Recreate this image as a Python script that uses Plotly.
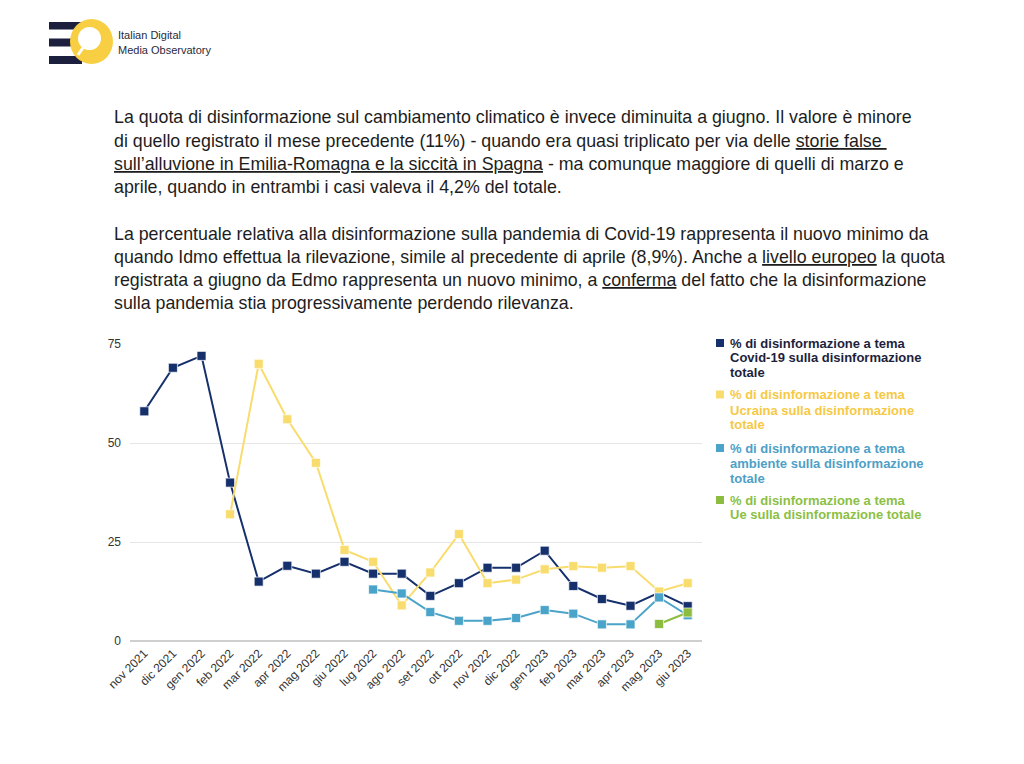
import plotly.graph_objects as go

months = ["nov 2021", "dic 2021", "gen 2022", "feb 2022", "mar 2022", "apr 2022", "mag 2022",
          "giu 2022", "lug 2022", "ago 2022", "set 2022", "ott 2022", "nov 2022", "dic 2022",
          "gen 2023", "feb 2023", "mar 2023", "apr 2023", "mag 2023", "giu 2023"]
covid = [58, 69, 72, 40, 15, 19, 17, 20, 17, 17, 11.4, 14.6, 18.5, 18.5, 22.8, 13.9, 10.6, 8.9, 12.2, 8.8]
ucraina = [None, None, None, 32, 70, 56, 45, 23, 20, 9, 17.3, 27, 14.6, 15.5, 18.1, 18.9, 18.5, 18.9, 12.5, 14.6]
ambiente = [None, None, None, None, None, None, None, None, 13, 12, 7.3, 5.1, 5.1, 5.8, 7.8, 6.9, 4.2, 4.2, 11, 6.5]
ue = [None] * 18 + [4.3, 7.2]
y_ticks = [0, 25, 50, 75]

C_COVID = "#15306b"
C_UCR = "#f9dc6e"
C_AMB = "#4aa3c8"
C_UE = "#8cbd40"

# page offset of the plot div (body margin)
OX, OY = 8, 8
# plot area in screen pixels
L, R, T, B = 130, 702, 344, 641
W, H = 1024, 764


def X(px):
    return (px - L) / (R - L)


def Y(py):
    return (B - py) / (B - T)


fig = go.Figure()
for vals, col in [(covid, C_COVID), (ucraina, C_UCR), (ambiente, C_AMB), (ue, C_UE)]:
    fig.add_trace(go.Scatter(
        x=months, y=vals, mode="lines+markers",
        line=dict(color=col, width=2),
        marker=dict(symbol="square", size=9, color=col, line=dict(color="rgba(255,255,255,0.7)", width=1)),
        connectgaps=False, showlegend=False, hoverinfo="x+y"))

annotations = []
shapes = []

FONT = "Liberation Sans, Arial, sans-serif"

# paragraph text
para = [
    (117, "La quota di disinformazione sul cambiamento climatico è invece diminuita a giugno. Il valore è minore"),
    (141, "di quello registrato il mese precedente (11%) - quando era quasi triplicato per via delle <u>storie false </u>"),
    (164, "<u>sull’alluvione in Emilia-Romagna e la siccità in Spagna</u> - ma comunque maggiore di quelli di marzo e"),
    (187, "aprile, quando in entrambi i casi valeva il 4,2% del totale."),
    (234, "La percentuale relativa alla disinformazione sulla pandemia di Covid-19 rappresenta il nuovo minimo da"),
    (257, "quando Idmo effettua la rilevazione, simile al precedente di aprile (8,9%). Anche a <u>livello europeo</u> la quota"),
    (280, "registrata a giugno da Edmo rappresenta un nuovo minimo, a <u>conferma</u> del fatto che la disinformazione"),
    (303, "sulla pandemia stia progressivamente perdendo rilevanza."),
]
for py, txt in para:
    annotations.append(dict(x=X(112), y=Y(py), xref="paper", yref="paper", text=txt,
                            showarrow=False, xanchor="left", yanchor="middle",
                            font=dict(family=FONT, size=17.8, color="#1d1d1d")))

# legend (custom)
legend_items = [
    (C_COVID, "#1e1f3d", [343, 357, 372], ["% di disinformazione a tema", "Covid-19 sulla disinformazione", "totale"]),
    (C_UCR, "#f6c945", [394.5, 410, 424.5], ["% di disinformazione a tema", "Ucraina sulla disinformazione", "totale"]),
    (C_AMB, "#4f9fc6", [448, 463.5, 478.5], ["% di disinformazione a tema", "ambiente sulla disinformazione", "totale"]),
    (C_UE, "#8cbf44", [500, 514.5], ["% di disinformazione a tema", "Ue sulla disinformazione totale"]),
]
for mcol, tcol, ys, lines in legend_items:
    shapes.append(dict(type="rect", xref="paper", yref="paper",
                       x0=X(716), x1=X(724), y0=Y(ys[0] + 4), y1=Y(ys[0] - 4),
                       fillcolor=mcol, line=dict(width=0)))
    for py, t in zip(ys, lines):
        annotations.append(dict(x=X(727.5), y=Y(py), xref="paper", yref="paper", text="<b>" + t + "</b>",
                                showarrow=False, xanchor="left", yanchor="middle",
                                font=dict(family=FONT, size=13, color=tcol)))

# logo
NAVY = "#1c1f3d"
for y0, y1, x1 in [(22, 29.5, 82), (38.5, 46.5, 76), (56, 64, 82)]:
    shapes.append(dict(type="rect", xref="paper", yref="paper", x0=X(49), x1=X(x1), y0=Y(y1), y1=Y(y0),
                       fillcolor=NAVY, line=dict(width=0)))
shapes.append(dict(type="circle", xref="paper", yref="paper", x0=X(70), x1=X(113), y0=Y(64), y1=Y(19),
                   fillcolor="#f8cf43", line=dict(width=0)))
shapes.append(dict(type="circle", xref="paper", yref="paper", x0=X(78), x1=X(101), y0=Y(50), y1=Y(27),
                   fillcolor="white", line=dict(width=0)))
shapes.append(dict(type="line", xref="paper", yref="paper", x0=X(83.5), x1=X(78), y0=Y(47), y1=Y(55),
                   line=dict(color="white", width=3)))
for py, t in [(35.5, "Italian Digital"), (49.5, "Media Observatory")]:
    annotations.append(dict(x=X(116), y=Y(py), xref="paper", yref="paper", text=t,
                            showarrow=False, xanchor="left", yanchor="middle",
                            font=dict(family=FONT, size=11, color="#2a2a3a")))

fig.update_layout(
    width=W - OX, height=H - OY,
    margin=dict(l=L - OX, r=W - R, t=T - OY, b=H - B, pad=0),
    paper_bgcolor="white", plot_bgcolor="white",
    font=dict(family=FONT, size=12, color="#333333"),
    xaxis=dict(type="category", range=[-0.5, 19.5], tickangle=-45, showgrid=False,
               showline=False, ticks="", tickfont=dict(size=12, color="#333333"), fixedrange=True,
               ticklabelstandoff=2),
    yaxis=dict(range=[0, 75], tickvals=y_ticks, showgrid=True, gridcolor="#e6e6e6", gridwidth=1,
               zeroline=True, zerolinecolor="#cfcfcf", zerolinewidth=1.5, showline=False, ticks="",
               tickfont=dict(size=12, color="#333333"), fixedrange=True, ticklabelstandoff=8),
    annotations=annotations, shapes=shapes,
)

fig.write_html("out.html", config={"displayModeBar": False})
